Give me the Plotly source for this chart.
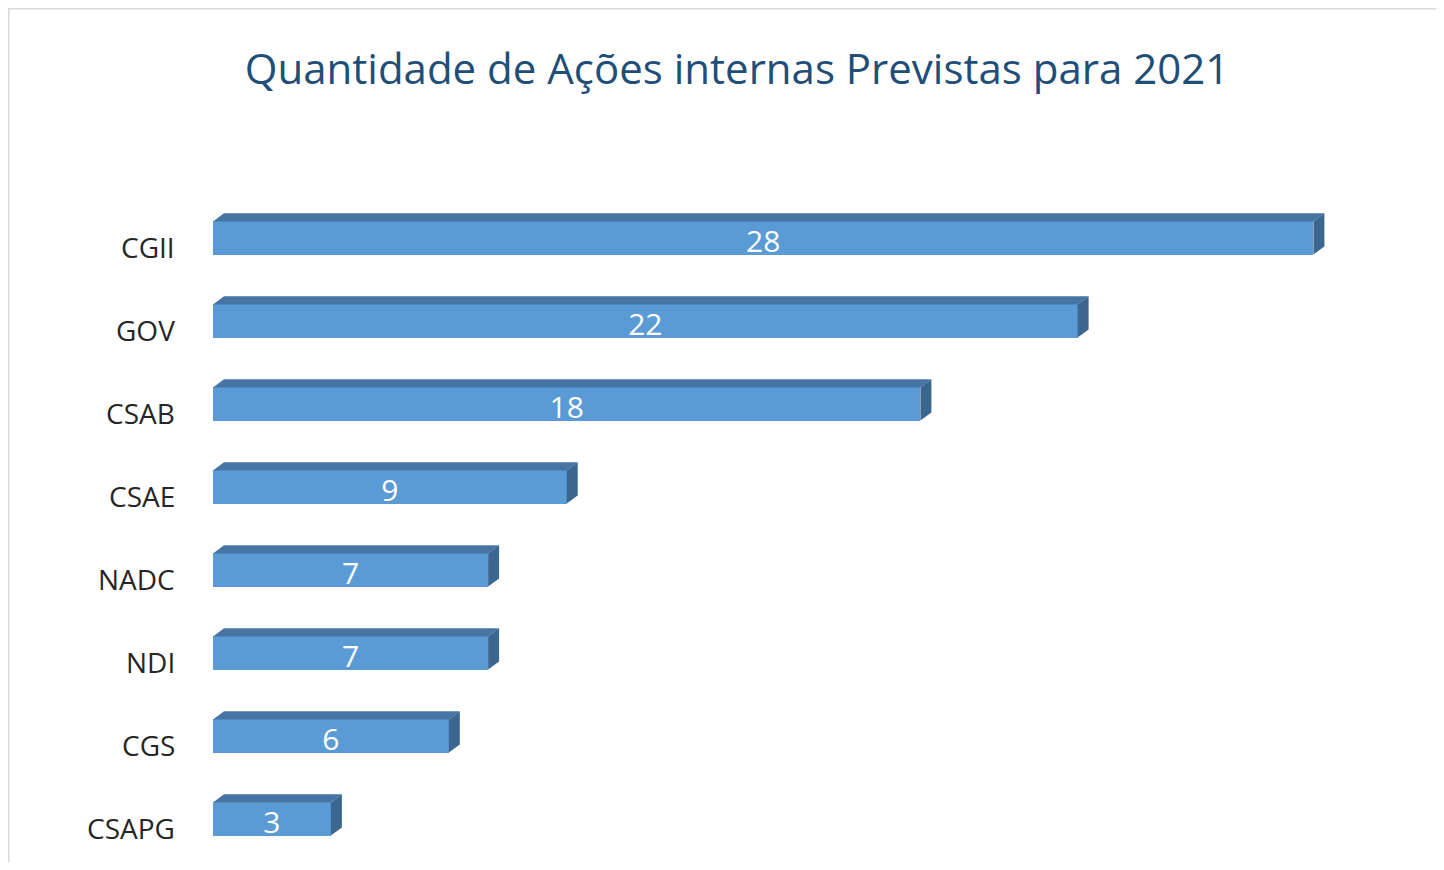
import plotly.graph_objects as go

categories = ["CGII", "GOV", "CSAB", "CSAE", "NADC", "NDI", "CGS", "CSAPG"]
values = [28, 22, 18, 9, 7, 7, 6, 3]
title_text = "Quantidade de Ações internas Previstas para 2021"

FRONT = "#5B9BD5"
TOP = "#4674A3"
SIDE = "#3B6690"
BAR_W = 0.4
DX = 0.28   # depth offset in x data units
DY = 0.097  # depth offset in y data units

pos = list(range(len(categories)))

W, H = 1428, 854
L, R, T, B = 205, 44, 147, 0
plot_w = W - L - R
plot_h = H - T - B
PX_PER_Y = 83.0
y_bottom = -1.0 + plot_h / PX_PER_Y

fig = go.Figure()

# front faces
fig.add_trace(go.Bar(
    x=values, y=pos, orientation="h", width=BAR_W,
    marker=dict(color=FRONT, line=dict(width=0)),
    hoverinfo="skip", showlegend=False,
))

# 3D top and side faces
for v, p in zip(values, pos):
    top_edge = p - BAR_W / 2
    bot_edge = p + BAR_W / 2
    fig.add_trace(go.Scatter(
        x=[0, DX, v + DX, v, 0],
        y=[top_edge, top_edge - DY, top_edge - DY, top_edge, top_edge],
        fill="toself", fillcolor=TOP, mode="lines",
        line=dict(width=0, color=TOP), hoverinfo="skip", showlegend=False,
    ))
    fig.add_trace(go.Scatter(
        x=[v, v + DX, v + DX, v, v],
        y=[top_edge, top_edge - DY, bot_edge - DY, bot_edge, top_edge],
        fill="toself", fillcolor=SIDE, mode="lines",
        line=dict(width=0, color=SIDE), hoverinfo="skip", showlegend=False,
    ))

# value labels
fig.add_trace(go.Scatter(
    x=[v / 2 for v in values], y=[p + 0.075 for p in pos],
    mode="text", text=[str(v) for v in values],
    textfont=dict(family="Open Sans", size=30, color="white"),
    hoverinfo="skip", showlegend=False,
))

# category labels
for c, p in zip(categories, pos):
    fig.add_annotation(
        x=0, y=p, xref="x", yref="y", text=c, showarrow=False,
        xanchor="right", yanchor="middle", xshift=-36, yshift=-9,
        font=dict(family="Open Sans", size=28, color="#262626"),
    )

# chart area border (top and left edges)
fig.add_shape(type="rect", xref="paper", yref="paper",
              x0=(0.75 - L) / plot_w, x1=1.2,
              y0=-0.2, y1=1 + (T - 0.75) / plot_h,
              line=dict(color="#D9D9D9", width=1.5), fillcolor="rgba(0,0,0,0)")

fig.update_layout(
    width=W, height=H,
    margin=dict(l=L, r=R, t=T, b=B),
    paper_bgcolor="white", plot_bgcolor="white",
    title=dict(text=title_text, xref="container", yref="container",
               x=(737 - 8) / W, y=1 - 61 / H, xanchor="center", yanchor="middle",
               font=dict(family="Open Sans", size=42, color="#1F4E79")),
    xaxis=dict(range=[0, 30], visible=False, fixedrange=True),
    yaxis=dict(range=[y_bottom, -1.0], visible=False, fixedrange=True),
    bargap=0,
)

fig.write_html("out.html")
